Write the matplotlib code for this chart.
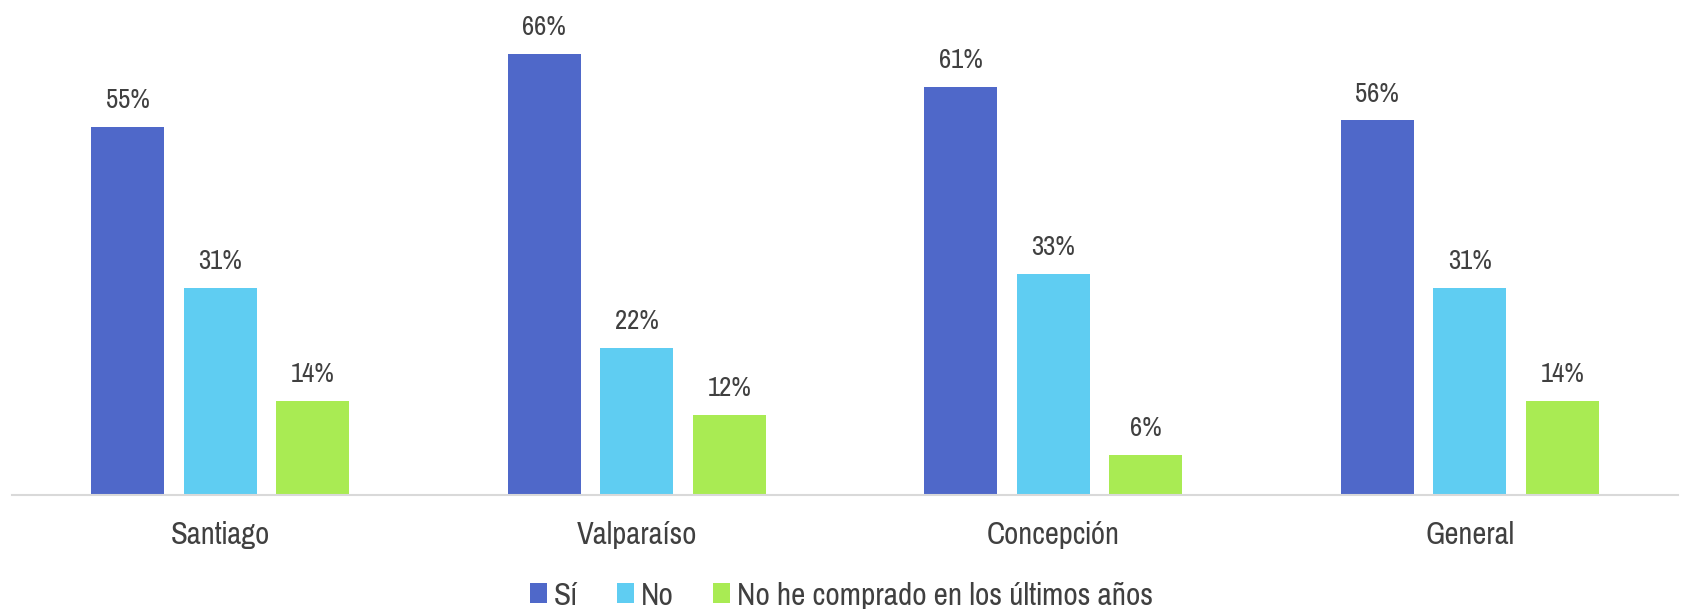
import numpy as np
import matplotlib.pyplot as plt

# Data
ciudades = ["Santiago", "Valparaíso", "Concepción", "General"]
si = [55, 66, 61, 56]
no = [31, 22, 33, 31]
no_compro = [14, 12, 6, 14]
series_names = ["Sí", "No", "No he comprado en los últimos años"]

colores = ["#4F68C9", "#5FCDF2", "#A9EB53"]
text_color = "#404040"

plt.rcParams["font.family"] = ["Liberation Sans Narrow", "Arial Narrow", "Pragati Narrow",
                               "Archivo Narrow", "DejaVu Sans"]

fig = plt.figure(figsize=(16.83, 6.09), dpi=100)
ax = fig.add_axes([12 / 1683, 1 - 495 / 609, 1666 / 1683, 495 / 609])

x = np.arange(len(ciudades))
step = 0.222
width = 0.175
for i, (vals, col, name) in enumerate(zip([si, no, no_compro], colores, series_names)):
    pos = x + (i - 1) * step
    bars = ax.bar(pos, vals, width=width, color=col, label=name, zorder=2)
    for b, v in zip(bars, vals):
        ax.annotate(f"{v}%", (b.get_x() + b.get_width() / 2, v),
                    xytext=(0, 10), textcoords="offset points",
                    ha="center", va="bottom", fontsize=21, color=text_color)

ax.set_xlim(-0.5, len(ciudades) - 0.5)
ax.set_ylim(0, 74)
ax.set_yticks([])
ax.set_xticks(x)
ax.set_xticklabels(ciudades, fontsize=24, color=text_color)
ax.tick_params(axis="x", length=0, pad=19)
for s in ["top", "right", "left"]:
    ax.spines[s].set_visible(False)
ax.spines["bottom"].set_color("#D9D9D9")
ax.spines["bottom"].set_linewidth(1.5)

leg = fig.legend(loc="center", bbox_to_anchor=(0.5, 1 - 596 / 609), ncol=3,
                 frameon=False, fontsize=24.5, handlelength=0.5, handleheight=0.5,
                 handletextpad=0.2, columnspacing=1.15, borderpad=0.1)
for t in leg.get_texts():
    t.set_color(text_color)

fig.savefig("out.png", dpi=100)
